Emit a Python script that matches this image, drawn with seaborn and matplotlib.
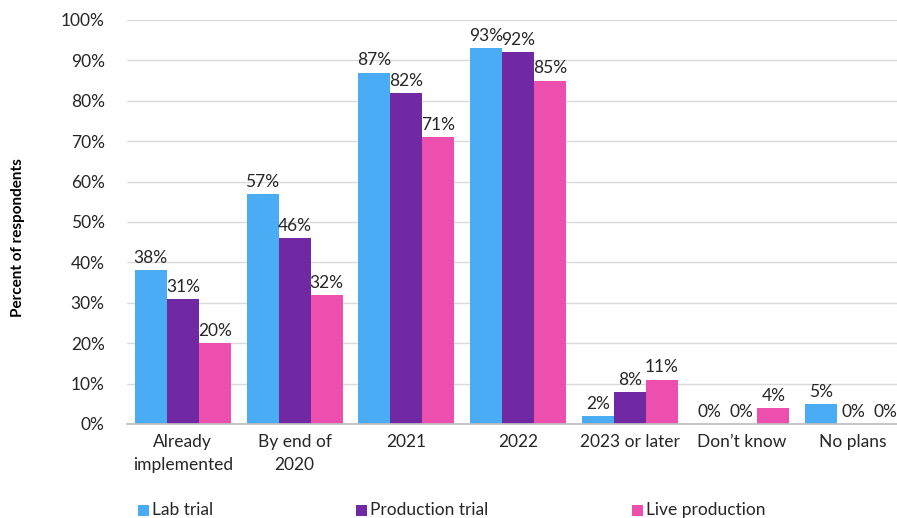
import matplotlib
matplotlib.use("Agg")
import matplotlib.pyplot as plt
import seaborn as sns
import pandas as pd

categories = ["Already\nimplemented", "By end of\n2020", "2021", "2022", "2023 or later", "Don\u2019t know", "No plans"]
series = ["Lab trial", "Production trial", "Live production"]
lab_trial = [38, 57, 87, 93, 2, 0, 5]
production_trial = [31, 46, 82, 92, 8, 0, 0]
live_production = [20, 32, 71, 85, 11, 4, 0]
yticks = [0, 10, 20, 30, 40, 50, 60, 70, 80, 90, 100]
colors = ["#4BACF6", "#7029A3", "#EC4FAE"]

rows = []
for s, vals in zip(series, [lab_trial, production_trial, live_production]):
    for c, v in zip(categories, vals):
        rows.append({"category": c, "series": s, "value": v})
df = pd.DataFrame(rows)

sns.set_theme(style="white")
plt.rcParams['font.family'] = ['Lato', 'DejaVu Sans']

fig = plt.figure(figsize=(8.97, 5.18), dpi=100)
ax = fig.add_axes([127/897, 1 - 424/518, 782/897, 404/518])

sns.barplot(data=df, x="category", y="value", hue="series", palette=colors,
            width=0.86, ax=ax, legend=False, saturation=1, edgecolor="none")

FS = 12.5
for cont in ax.containers:
    ax.bar_label(cont, labels=[f"{int(round(b.get_height()))}%" for b in cont],
                 padding=3, fontsize=FS, color="#262626")

ax.set_ylim(0, 100)
ax.set_yticks(yticks)
ax.set_yticklabels([f"{t}%" for t in yticks], fontsize=FS, color="#262626")
ax.set_xlim(-0.5, len(categories) - 0.5)
ax.tick_params(axis="x", labelsize=FS, colors="#262626", length=0, pad=7)
for t in ax.get_xticklabels():
    t.set_linespacing(1.55)
ax.tick_params(axis="y", length=0, pad=16)
ax.yaxis.grid(True, color="#D9D9D9", linewidth=1)
ax.set_axisbelow(True)
for sp in ["top", "right", "left"]:
    ax.spines[sp].set_visible(False)
ax.spines["bottom"].set_color("#BFBFBF")
ax.set_xlabel("")
ax.set_ylabel("")
fig.text(18/897, 1 - 238/518, "Percent of respondents", rotation=90, fontsize=11,
         fontweight="bold", ha="center", va="center", color="#000000")

xs = [138, 356, 632]
for lab, x, c in zip(series, xs, colors):
    fig.patches.append(plt.Rectangle((x/897, 1 - 516/518), 11/897, 11/518,
                                     transform=fig.transFigure, facecolor=c, edgecolor="none"))
    fig.text((x + 14)/897, 1 - 510/518, lab, fontsize=FS, va="center", ha="left", color="#262626")

fig.savefig("out.png", dpi=100)
